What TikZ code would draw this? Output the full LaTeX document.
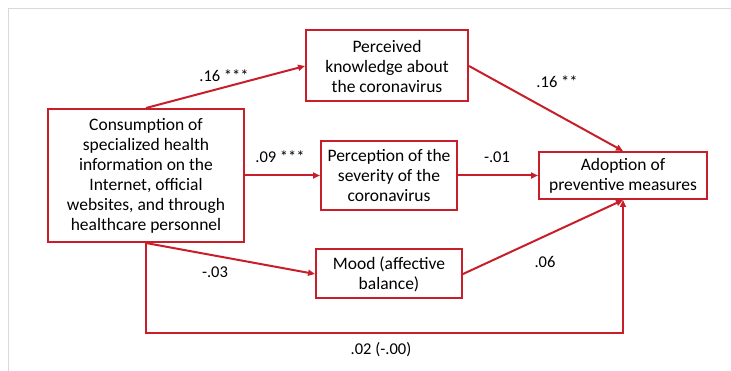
\documentclass[tikz,border=0pt]{standalone}
\usepackage{fontspec}
\setmainfont{Carlito}
\usetikzlibrary{arrows.meta}
\definecolor{pathred}{RGB}{200,30,42}
\definecolor{framegray}{RGB}{217,217,217}
\tikzset{
  varbox/.style={draw=pathred, line width=2pt, fill=white, align=center,
    font=\fontsize{17.5}{20}\selectfont, inner sep=0pt},
  link/.style={draw=pathred, line width=2pt,
    -{Triangle[length=7pt,width=6pt]}},
  coef/.style={font=\fontsize{16.5}{19}\selectfont, inner sep=0pt}
}
\begin{document}
\begin{tikzpicture}[x=1pt,y=-1pt]
  \useasboundingbox (0,0) rectangle (731,371);
  % light frame along the top and left
  \draw[framegray, line width=1.5pt] (731,8.5) -- (8.5,8.5) -- (8.5,371);

  % variables
  \node[varbox, minimum width=196pt, minimum height=133pt] (cons) at (146,175.5)
    {Consumption of\\specialized health\\information on the\\Internet, official\\websites, and through\\healthcare personnel};
  \node[varbox, minimum width=162pt, minimum height=71pt] (know) at (387,66)
    {Perceived\\knowledge about\\the coronavirus};
  \node[varbox, minimum width=136pt, minimum height=69pt] (sev) at (389,175.5)
    {Perception of the\\severity of the\\coronavirus};
  \node[varbox, minimum width=168pt, minimum height=47pt] (adopt) at (623,175.5)
    {Adoption of\\preventive measures};
  \node[varbox, minimum width=146pt, minimum height=49pt] (mood) at (389,274)
    {Mood (affective\\balance)};

  % paths
  \draw[link] (cons.north) -- (know.west);
  \draw[link] (know.east) -- (adopt.north);
  \draw[link] (cons.east) -- (sev.west);
  \draw[link] (sev.east) -- (adopt.west);
  \draw[link] (cons.south) -- (mood.west);
  \draw[link] (mood.east) -- (adopt.south);
  \coordinate (direct) at (146,333);
  \draw[link] (cons.south) -- (direct) -| (adopt.south);

  % coefficients
  \node[coef] (c1) at (224,76) {.16 ***};
  \node[coef] (c2) at (557,82) {.16 **};
  \node[coef] (c3) at (280,157) {.09 ***};
  \node[coef] (c4) at (497,157) {-.01};
  \node[coef] (c5) at (215,272) {-.03};
  \node[coef] (c6) at (545,262) {.06};
  \node[coef] (c7) at (381,350) {.02 (-.00)};
\end{tikzpicture}
\end{document}
